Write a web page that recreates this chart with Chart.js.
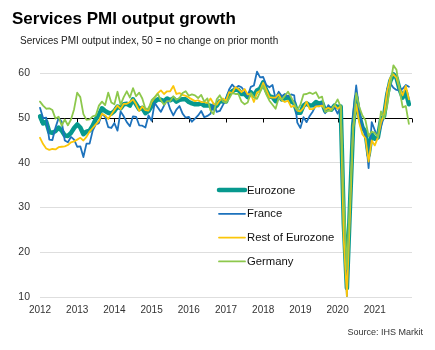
<!DOCTYPE html>
<html>
<head>
<meta charset="utf-8">
<script src="https://cdn.jsdelivr.net/npm/chart.js@4.4.0/dist/chart.umd.min.js"></script>
<style>
  body { margin: 0; background: #fff; font-family: "Liberation Sans", Arial, sans-serif; }
  #wrap { position: relative; width: 435px; height: 350px; }
  .txt { position: absolute; white-space: nowrap; line-height: 1; }
</style>
</head>
<body>
<div id="wrap">
  <canvas id="chart" width="435" height="350"></canvas>
  <div class="txt" style="left:12px; top:10px; font-size:17px; font-weight:bold; color:#000;">Services PMI output growth</div>
  <div class="txt" style="left:20px; top:36px; font-size:10px; color:#222;">Services PMI output index, 50 = no change on prior month</div>
  <div class="txt" style="right:12px; top:328px; font-size:9px; color:#333;">Source: IHS Markit</div>
</div>
<script>
// monthly, Jan 2012 .. Dec 2021 (axis runs to Jan 2022)
const firstYear = 2012;
const months = [];
for (let y = 2012; y <= 2021; y++) {
    for (let m = 1; m <= 12; m++) months.push(y + '-' + m);
}
months.push('2022-1');

const seriesNames = ['Eurozone', 'France', 'Rest of Eurozone', 'Germany'];

const eurozone = [
    50.4, 48.8, 49.2, 46.9, 46.7, 47.1, 47.9, 47.2, 46.1, 46.0, 46.7, 47.8,
    48.6, 47.9, 46.4, 47.0, 47.2, 48.3, 49.8, 50.7, 52.2, 51.6, 51.2, 51.0,
    51.6, 52.6, 52.2, 53.1, 53.2, 52.8, 54.2, 53.1, 52.0, 52.3, 51.1, 51.6,
    52.7, 53.7, 54.2, 54.1, 53.8, 54.4, 54.0, 54.4, 53.7, 54.1, 54.2, 54.2,
    53.6, 53.3, 53.1, 53.1, 53.3, 52.8, 52.9, 52.8, 52.2, 52.8, 53.8, 53.7,
    53.7, 55.5, 56.0, 56.4, 56.3, 55.4, 55.4, 54.7, 55.8, 55.0, 56.2, 56.6,
    58.0, 56.2, 54.9, 54.7, 53.8, 55.2, 54.2, 54.4, 54.7, 53.7, 53.4, 51.2,
    51.2, 52.8, 53.3, 52.8, 52.9, 53.6, 53.2, 53.5, 51.6, 52.2, 51.9, 52.8,
    52.5, 52.6, 26.4, 12.0, 30.5, 48.3, 54.7, 50.5, 48.0, 46.9, 41.7, 46.4,
    45.4, 45.7, 49.6, 50.5, 55.2, 58.3, 59.8, 59.0, 56.4, 54.6, 55.9, 53.1
];

const france = [
    52.3, 50.0, 50.1, 45.2, 45.1, 47.9, 50.0, 49.2, 45.0, 44.6, 45.8, 45.2,
    43.6, 43.7, 41.3, 44.3, 44.3, 47.2, 48.6, 48.9, 51.0, 50.3, 48.0, 47.8,
    48.9, 47.2, 51.5, 50.4, 49.1, 48.2, 50.4, 50.3, 48.4, 48.3, 47.9, 50.6,
    49.4, 53.4, 52.4, 51.4, 52.8, 54.1, 52.0, 50.6, 51.9, 52.7, 51.0, 50.1,
    50.3, 49.2, 49.9, 50.6, 51.6, 50.2, 50.5, 51.0, 53.3, 51.4, 51.6, 52.9,
    54.1, 56.4, 57.5, 56.7, 57.2, 56.9, 56.0, 54.9, 57.0, 57.3, 60.4, 59.1,
    59.2, 57.4, 56.9, 57.4, 54.3, 55.9, 54.9, 55.4, 54.8, 55.3, 55.1, 49.0,
    47.8, 50.2, 49.1, 50.5, 51.5, 52.9, 52.6, 53.4, 51.1, 52.9, 52.2, 52.4,
    51.0, 52.5, 27.4, 10.2, 31.1, 50.7, 57.3, 51.5, 48.0, 46.5, 38.8, 49.1,
    47.3, 45.6, 48.2, 50.3, 56.6, 57.8, 56.8, 56.3, 56.2, 56.6, 57.4, 57.0
];

const restOfEurozone = [
    45.6, 44.2, 43.2, 42.9, 43.1, 43.0, 43.5, 43.6, 43.7, 44.0, 44.6, 44.8,
    45.2, 45.6, 45.0, 45.8, 47.0, 47.8, 48.6, 49.4, 51.0, 50.6, 49.8, 50.8,
    51.8, 52.8, 52.0, 53.2, 53.2, 53.6, 54.2, 53.1, 51.6, 52.6, 51.8, 51.7,
    53.6, 54.6, 55.6, 56.2, 55.4, 56.0, 56.0, 57.2, 55.4, 55.6, 55.2, 55.0,
    54.6, 54.2, 53.8, 54.0, 53.6, 53.6, 53.4, 54.4, 53.2, 53.0, 54.0, 54.4,
    53.9, 55.8, 55.6, 56.9, 56.5, 55.8, 56.5, 55.3, 55.4, 53.6, 55.7, 56.1,
    57.9, 56.3, 54.7, 54.6, 54.6, 55.3, 54.0, 53.6, 53.9, 52.5, 52.8, 51.7,
    51.5, 52.3, 53.7, 52.0, 52.0, 52.6, 52.7, 52.8, 51.9, 52.3, 51.9, 52.9,
    52.1, 52.7, 22.8, 10.2, 29.0, 47.9, 53.1, 48.9, 46.4, 45.5, 40.3, 45.0,
    43.9, 45.7, 49.0, 50.9, 56.1, 59.0, 59.8, 59.0, 56.6, 55.1, 57.2, 54.2
];

const germany = [
    53.7, 52.8, 52.1, 52.2, 51.8, 49.9, 50.3, 48.3, 49.7, 48.4, 49.7, 52.0,
    55.7, 54.7, 50.9, 49.6, 49.7, 50.4, 50.6, 52.8, 53.7, 52.9, 55.7, 53.5,
    53.1, 55.9, 53.0, 54.7, 56.0, 54.6, 56.7, 54.9, 55.7, 54.4, 52.1, 52.1,
    54.0, 54.7, 55.4, 54.0, 53.0, 53.8, 53.8, 54.9, 54.1, 54.5, 55.6, 56.0,
    55.0, 55.3, 55.1, 54.5, 55.2, 53.7, 54.4, 51.7, 50.9, 54.2, 55.1, 53.8,
    53.4, 54.4, 55.6, 55.4, 55.4, 53.7, 53.1, 53.5, 55.6, 54.7, 54.3, 55.8,
    57.3, 55.3, 53.9, 53.0, 52.1, 54.5, 54.1, 55.0, 55.9, 54.7, 53.3, 51.8,
    53.0, 55.3, 55.4, 55.7, 55.4, 55.8, 54.5, 54.8, 51.4, 51.6, 51.7, 52.9,
    54.2, 52.5, 31.7, 16.2, 32.6, 47.3, 55.6, 52.5, 50.6, 49.5, 46.0, 47.0,
    46.7, 45.7, 51.5, 49.9, 52.8, 57.5, 61.8, 60.8, 56.2, 52.4, 52.7, 48.7
];

const yTicks = [10, 20, 30, 40, 50, 60];

const colors = ['#07998e', '#1d72bc', '#fbc60a', '#8dc84c'];
const widths = [4.5, 1.8, 1.8, 1.8];
const values = [eurozone, france, restOfEurozone, germany];

const FONT = '"Liberation Sans", Arial, sans-serif';

// black line at 50 with small year ticks under it
const fiftyLine = {
    id: 'fiftyLine',
    beforeDatasetsDraw(chart) {
        const { ctx, chartArea, scales } = chart;
        const y = Math.round(scales.y.getPixelForValue(50)) + 0.5;
        ctx.save();
        ctx.strokeStyle = '#000';
        ctx.lineWidth = 1;
        ctx.beginPath();
        ctx.moveTo(chartArea.left, y);
        ctx.lineTo(chartArea.right, y);
        for (let i = 0; i < months.length; i += 12) {
            const x = Math.round(scales.x.getPixelForValue(i)) + 0.5;
            ctx.moveTo(x, y);
            ctx.lineTo(x, y + 4);
        }
        ctx.stroke();
        ctx.restore();
    }
};

// legend inside the plot
const insideLegend = {
    id: 'insideLegend',
    afterDatasetsDraw(chart) {
        const ctx = chart.ctx;
        ctx.save();
        ctx.font = '11.3px ' + FONT;
        ctx.textBaseline = 'middle';
        ctx.fillStyle = '#111';
        chart.data.datasets.forEach((ds, i) => {
            const y = 190 + i * 23.8;
            ctx.strokeStyle = ds.borderColor;
            ctx.lineWidth = ds.borderWidth;
            ctx.lineCap = 'round';
            ctx.beginPath();
            ctx.moveTo(219, y);
            ctx.lineTo(245, y);
            ctx.stroke();
            ctx.fillText(ds.label, 247, y + 0.5);
        });
        ctx.restore();
    }
};

const datasets = seriesNames.map((name, i) => ({
    label: name,
    data: values[i],
    borderColor: colors[i],
    backgroundColor: colors[i],
    borderWidth: widths[i],
    pointRadius: 0,
    tension: 0,
    borderJoinStyle: 'round',
    borderCapStyle: 'round',
    order: seriesNames.length - i
}));

new Chart(document.getElementById('chart'), {
    type: 'line',
    data: { labels: months, datasets: datasets },
    options: {
        responsive: false,
        animation: false,
        layout: { padding: { top: 60, right: 23, bottom: 23, left: 0 } },
        plugins: {
            legend: { display: false },
            tooltip: { enabled: false },
            title: { display: false }
        },
        scales: {
            x: {
                grid: { display: false, drawTicks: false },
                border: { display: false },
                afterFit: (scale) => { scale.height = 30; },
                ticks: {
                    autoSkip: false,
                    maxRotation: 0,
                    minRotation: 0,
                    padding: 7,
                    color: '#333',
                    font: { family: FONT, size: 10 },
                    callback: (value, index) =>
                        (index % 12 === 0 && index < 120) ? String(firstYear + index / 12) : ''
                }
            },
            y: {
                min: 10,
                max: 63,
                grid: { color: '#dedede', drawTicks: false },
                border: { display: false },
                afterFit: (scale) => { scale.width = 40; },
                afterBuildTicks: (scale) => {
                    scale.ticks = yTicks.map(v => ({ value: v }));
                },
                ticks: {
                    padding: 10,
                    color: '#333',
                    font: { family: FONT, size: 10.5 }
                }
            }
        }
    },
    plugins: [fiftyLine, insideLegend]
});
</script>
</body>
</html>
